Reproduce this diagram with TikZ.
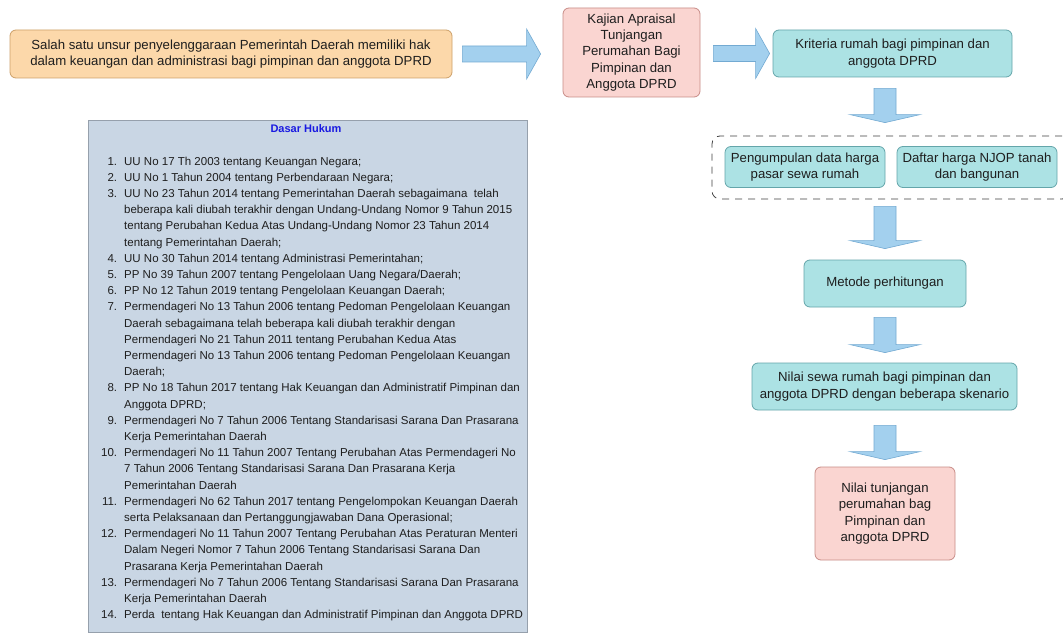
\documentclass[tikz,border=0pt]{standalone}
\usepackage{fontspec}
\setmainfont{Liberation Sans}
\usetikzlibrary{calc}
\definecolor{orfill}{RGB}{252,216,170}
\definecolor{ordraw}{RGB}{205,160,105}
\definecolor{pkfill}{RGB}{250,213,209}
\definecolor{pkdraw}{RGB}{200,140,135}
\definecolor{cyfill}{RGB}{172,226,228}
\definecolor{cydraw}{RGB}{100,165,170}
\definecolor{arfill}{RGB}{163,208,238}
\definecolor{ardraw}{RGB}{115,170,210}
\definecolor{dhfill}{RGB}{201,214,228}
\definecolor{dhdraw}{RGB}{150,160,172}
\definecolor{dhtitle}{RGB}{25,25,225}
\definecolor{txt}{RGB}{30,30,30}
\newcommand{\rblock}[2]{%
  \draw[arr] let \p1=(#1), \p2=(#2) in
    (\x1,\y1+8pt) -- (\x2-14pt,\y1+8pt) -- (\x2-14pt,\y1+25pt) -- (\x2,\y1)
    -- (\x2-14pt,\y1-25pt) -- (\x2-14pt,\y1-8pt) -- (\x1,\y1-8pt) -- cycle;}
\newcommand{\dblock}[2]{%
  \draw[arr] let \p1=(#1), \p2=(#2) in
    (\x1-11pt,\y1) -- (\x1+11pt,\y1) -- (\x1+11pt,\y2+8pt) -- (\x1+35pt,\y2+8pt)
    -- (\x1,\y2) -- (\x1-35pt,\y2+8pt) -- (\x1-11pt,\y2+8pt) -- cycle;}
\begin{document}
\begin{tikzpicture}[x=1pt,y=-1pt,
  box/.style={rounded corners=6pt, line width=0.8pt, align=center, inner sep=0pt,
    text=txt, font=\fontsize{13.2}{16.2}\selectfont},
  orbox/.style={box, fill=orfill, draw=ordraw},
  pkbox/.style={box, fill=pkfill, draw=pkdraw},
  cybox/.style={box, fill=cyfill, draw=cydraw},
  arr/.style={fill=arfill, draw=ardraw, line width=0.6pt, line join=miter},
  grpbox/.style={draw=black!75, dashed, dash pattern=on 7pt off 6pt, rounded corners=8pt, line width=0.8pt, minimum width=358, minimum height=63},
]
\useasboundingbox (0,0) rectangle (1063,639);
\fill[white] (0,0) rectangle (1063,639);

% top row
\node[orbox, minimum width=442, minimum height=48] (intro) at (231,54)
  {Salah satu unsur penyelenggaraan Pemerintah Daerah memiliki hak\\dalam keuangan dan administrasi bagi pimpinan dan anggota DPRD};
\node[pkbox, minimum width=137, minimum height=89] (kajian) at (631.5,52.5)
  {Kajian Apraisal\\Tunjangan\\Perumahan Bagi\\Pimpinan dan\\Anggota DPRD};
\node[cybox, minimum width=239, minimum height=47] (crit) at (892.5,53.5)
  {Kriteria rumah bagi pimpinan dan\\anggota DPRD};

% right column
\node[grpbox] (grp) at (891,167.5) {};
\node[cybox, minimum width=160, minimum height=41] (pung) at (805,167)
  {Pengumpulan data harga\\pasar sewa rumah};
\node[cybox, minimum width=160, minimum height=41] (daftar) at (977,167)
  {Daftar harga NJOP tanah\\dan bangunan};
\node[cybox, minimum width=162, minimum height=47] (metode) at (885,283.5)
  {Metode perhitungan};
\node[cybox, minimum width=265, minimum height=47] (sewa) at (884.5,386.5)
  {Nilai sewa rumah bagi pimpinan dan\\anggota DPRD dengan beberapa skenario};
\node[pkbox, minimum width=140, minimum height=93] (tunj) at (885,513.5)
  {Nilai tunjangan\\perumahan bag\\Pimpinan dan\\anggota DPRD};

% block arrows
\coordinate (a1s) at ($(intro.east)+(10,0)$);
\coordinate (a1e) at ($(kajian.west |- intro.east)+(-22,0)$);
\rblock{a1s}{a1e}
\coordinate (a2s) at ($(kajian.east |- crit.west)+(13,0)$);
\coordinate (a2e) at ($(crit.west)+(-3,0)$);
\rblock{a2s}{a2e}

\coordinate (d1s) at ($(crit.south -| metode.center)+(0,11)$);
\coordinate (d1e) at ($(grp.north -| metode.center)+(0,-13)$);
\dblock{d1s}{d1e}
\coordinate (d2s) at ($(grp.south -| metode.center)+(0,7)$);
\coordinate (d2e) at ($(metode.north)+(0,-11)$);
\dblock{d2s}{d2e}
\coordinate (d3s) at ($(metode.south)+(0,10)$);
\coordinate (d3e) at ($(sewa.north -| metode.center)+(0,-10)$);
\dblock{d3s}{d3e}
\coordinate (d4s) at ($(sewa.south -| metode.center)+(0,15)$);
\coordinate (d4e) at ($(tunj.north)+(0,-7)$);
\dblock{d4s}{d4e}

% Dasar Hukum
\node[draw=dhdraw, fill=dhfill, line width=0.8pt, minimum width=439, minimum height=512, inner sep=0pt] (dh) at (307.5,376.5) {};
\node[font=\bfseries\fontsize{11}{13}\selectfont, text=dhtitle] (dhtitle) at (306,128.5) {Dasar Hukum};
\node[anchor=north west, inner sep=0pt, text=txt, font=\fontsize{11.5}{16.2}\selectfont] (list) at (101,153.5) {%
\begin{tabular}{@{}r@{\hspace{7pt}}l@{}}
1. & UU No 17 Th 2003 tentang Keuangan Negara;\\
2. & UU No 1 Tahun 2004 tentang Perbendaraan Negara;\\
3. & UU No 23 Tahun 2014 tentang Pemerintahan Daerah sebagaimana\ \ telah\\
   & beberapa kali diubah terakhir dengan Undang-Undang Nomor 9 Tahun 2015\\
   & tentang Perubahan Kedua Atas Undang-Undang Nomor 23 Tahun 2014\\
   & tentang Pemerintahan Daerah;\\
4. & UU No 30 Tahun 2014 tentang Administrasi Pemerintahan;\\
5. & PP No 39 Tahun 2007 tentang Pengelolaan Uang Negara/Daerah;\\
6. & PP No 12 Tahun 2019 tentang Pengelolaan Keuangan Daerah;\\
7. & Permendageri No 13 Tahun 2006 tentang Pedoman Pengelolaan Keuangan\\
   & Daerah sebagaimana telah beberapa kali diubah terakhir dengan\\
   & Permendageri No 21 Tahun 2011 tentang Perubahan Kedua Atas\\
   & Permendageri No 13 Tahun 2006 tentang Pedoman Pengelolaan Keuangan\\
   & Daerah;\\
8. & PP No 18 Tahun 2017 tentang Hak Keuangan dan Administratif Pimpinan dan\\
   & Anggota DPRD;\\
9. & Permendageri No 7 Tahun 2006 Tentang Standarisasi Sarana Dan Prasarana\\
   & Kerja Pemerintahan Daerah\\
10. & Permendageri No 11 Tahun 2007 Tentang Perubahan Atas Permendageri No\\
   & 7 Tahun 2006 Tentang Standarisasi Sarana Dan Prasarana Kerja\\
   & Pemerintahan Daerah\\
11. & Permendageri No 62 Tahun 2017 tentang Pengelompokan Keuangan Daerah\\
   & serta Pelaksanaan dan Pertanggungjawaban Dana Operasional;\\
12. & Permendageri No 11 Tahun 2007 Tentang Perubahan Atas Peraturan Menteri\\
   & Dalam Negeri Nomor 7 Tahun 2006 Tentang Standarisasi Sarana Dan\\
   & Prasarana Kerja Pemerintahan Daerah\\
13. & Permendageri No 7 Tahun 2006 Tentang Standarisasi Sarana Dan Prasarana\\
   & Kerja Pemerintahan Daerah\\
14. & Perda\ \ tentang Hak Keuangan dan Administratif Pimpinan dan Anggota DPRD
\end{tabular}};
\end{tikzpicture}
\end{document}
